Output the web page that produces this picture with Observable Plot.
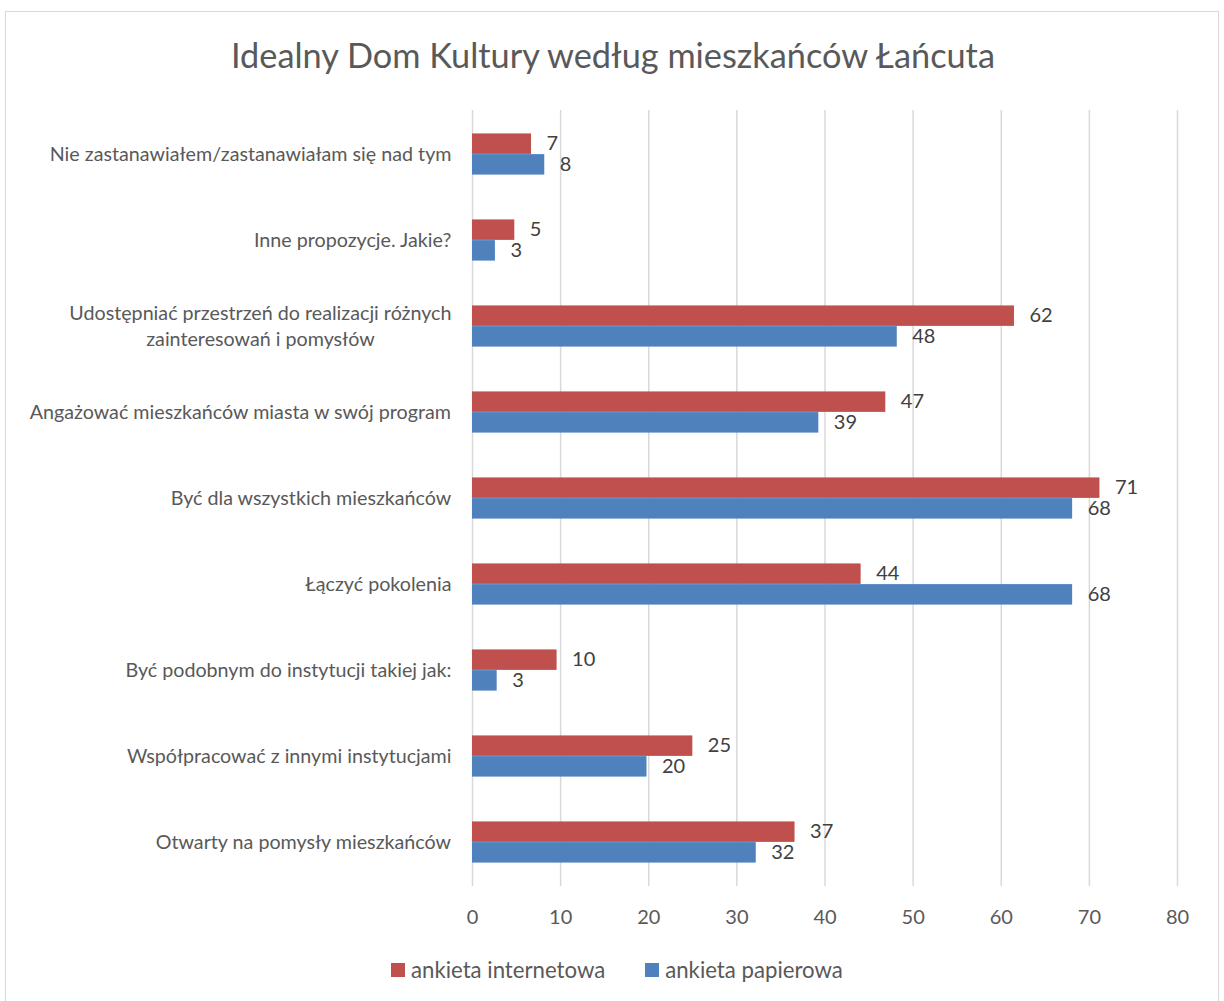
<!DOCTYPE html>
<html>
<head>
<meta charset="utf-8">
<script src="https://cdn.jsdelivr.net/npm/d3@7"></script>
<script src="https://cdn.jsdelivr.net/npm/@observablehq/plot@0.6"></script>
<style>
  html, body { margin: 0; padding: 0; background: #fff; }
  #page { position: relative; width: 1224px; height: 1001px; overflow: hidden; font-family: Lato, "Noto Sans", sans-serif; }
  #frame { position: absolute; left: 5px; top: 11px; width: 1214px; height: 995px; border: 1px solid #d9d9d9; box-sizing: border-box; }
  #title { position: absolute; left: 0; width: 1226px; top: 34px; text-align: center; font-size: 34.3px; line-height: 42px; color: #595959; }
  #chart { position: absolute; left: 0; top: 90px; }
  #legend { position: absolute; left: 391px; top: 958px; display: flex; align-items: center; font-size: 22.2px; line-height: 24px; color: #595959; }
  .sw { width: 14px; height: 14px; margin-right: 6px; }
  .item { display: flex; align-items: center; margin-right: 40px; }
</style>
</head>
<body>
<div id="page">
  <div id="frame"></div>
  <div id="title"></div>
  <div id="chart"></div>
  <div id="legend"></div>
</div>
<script>
const title = "Idealny Dom Kultury według mieszkańców Łańcuta";
const categories = [
  "Nie zastanawiałem/zastanawiałam się nad tym",
  "Inne propozycje. Jakie?",
  "Udostępniać przestrzeń do realizacji różnych\nzainteresowań i pomysłów",
  "Angażować mieszkańców miasta w swój program",
  "Być dla wszystkich mieszkańców",
  "Łączyć pokolenia",
  "Być podobnym do instytucji takiej jak:",
  "Współpracować z innymi instytucjami",
  "Otwarty na pomysły mieszkańców"
];
const seriesNames = ["ankieta internetowa", "ankieta papierowa"];
const seriesColors = ["#C0504D", "#4F81BD"];
const internetowa = [6.7, 4.8, 61.5, 46.9, 71.2, 44.1, 9.6, 25.0, 36.6];
const papierowa   = [8.2, 2.6, 48.2, 39.3, 68.1, 68.1, 2.8, 19.8, 32.2];
const xTicks = [0, 10, 20, 30, 40, 50, 60, 70, 80];

document.getElementById("title").textContent = title;

const dataI = categories.map((c, i) => ({cat: c, v: internetowa[i]}));
const dataP = categories.map((c, i) => ({cat: c, v: papierowa[i]}));

const labelFont = 19.7;
const ctx = document.createElement("canvas").getContext("2d");
ctx.font = `${labelFont}px Lato`;
const catMarks = categories.map(c => {
  const w = Math.max(...c.split("\n").map(l => ctx.measureText(l).width));
  return Plot.text([c], {
    y: d => d, frameAnchor: "left", textAnchor: "middle",
    dx: -(21 + w / 2), dy: -2, fontSize: labelFont, lineHeight: 1.3, fill: "#595959"
  });
});

const band = 776 / categories.length;
const barH = 20.7;
const outer = band / 2 - barH;

const chart = Plot.plot({
  width: 1224,
  height: 846,
  marginLeft: 472,
  marginRight: 47,
  marginTop: 20,
  marginBottom: 50,
  style: {fontFamily: "Lato", fontSize: "20px", color: "#595959", background: "transparent"},
  x: {domain: [0, 80], ticks: xTicks, tickSize: 0, tickPadding: 23, label: null},
  y: {domain: categories, padding: 0, axis: null},
  marks: [
    Plot.gridX(xTicks, {stroke: "#d9d9d9", strokeOpacity: 1, strokeWidth: 1.5}),
    Plot.barX(dataI, {x: "v", y: "cat", fill: seriesColors[0], insetTop: outer, insetBottom: band / 2}),
    Plot.barX(dataP, {x: "v", y: "cat", fill: seriesColors[1], insetTop: band / 2, insetBottom: outer}),
    Plot.text(dataI, {x: "v", y: "cat", text: d => String(Math.round(d.v)), dy: -barH / 2 - 1, dx: 15, textAnchor: "start", fontSize: 20, fill: "#404040"}),
    Plot.text(dataP, {x: "v", y: "cat", text: d => String(Math.round(d.v)), dy: barH / 2, dx: 15, textAnchor: "start", fontSize: 20, fill: "#404040"}),
    ...catMarks
  ]
});
document.getElementById("chart").appendChild(chart);

const legend = document.getElementById("legend");
seriesNames.forEach((n, i) => {
  const it = document.createElement("div");
  it.className = "item";
  const sw = document.createElement("div");
  sw.className = "sw";
  sw.style.background = seriesColors[i];
  const t = document.createElement("span");
  t.textContent = n;
  it.appendChild(sw); it.appendChild(t);
  legend.appendChild(it);
});
</script>
</body>
</html>
